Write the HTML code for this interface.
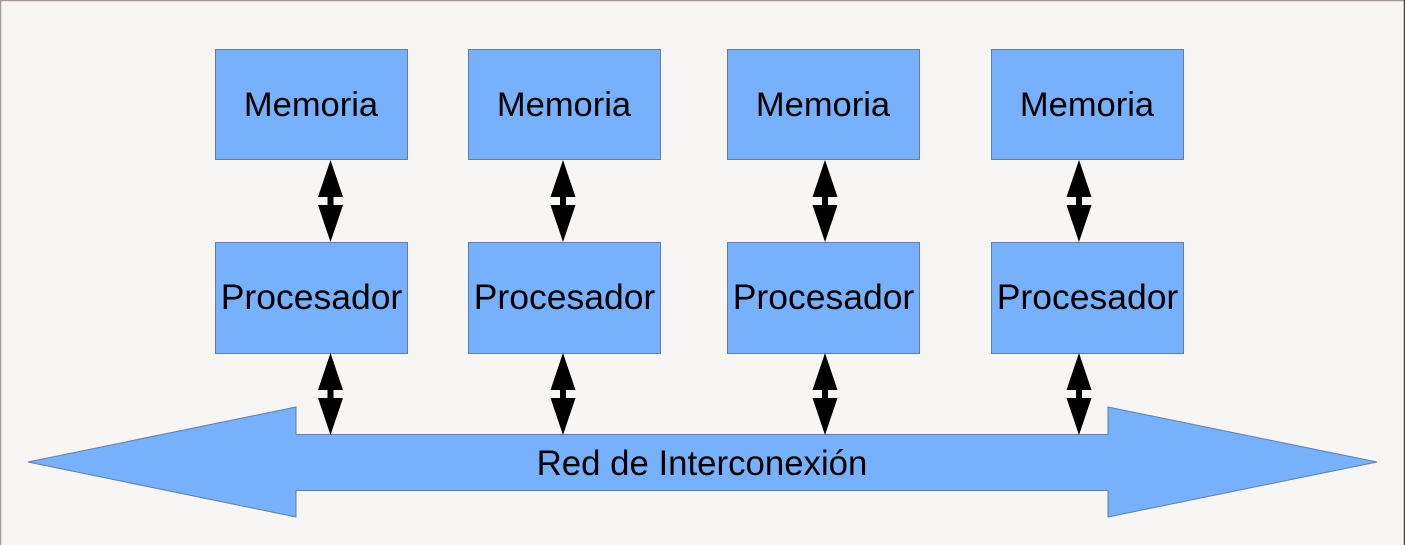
<!DOCTYPE html>
<html><head><meta charset="utf-8"><style>
html,body{margin:0;padding:0;background:#f7f6f4;}
svg{display:block;}
</style></head><body>
<svg width="1405" height="545" viewBox="0 0 1405 545" xmlns="http://www.w3.org/2000/svg">
<rect x="0" y="0" width="1405" height="545" fill="#f7f6f4"/>
<line x1="0.5" y1="0" x2="0.5" y2="545" stroke="#a49a92" stroke-width="1.5"/>
<line x1="0" y1="0.5" x2="1405" y2="0.5" stroke="#a49a92" stroke-width="1.5"/>
<line x1="1404.5" y1="0" x2="1404.5" y2="545" stroke="#4a4038" stroke-width="1.5"/>
<g fill="#77b1fb" stroke="#5d7fae" stroke-width="1">
<rect x="215.5" y="49.5" width="192" height="110"/>
<rect x="468.5" y="49.5" width="192" height="110"/>
<rect x="727.5" y="49.5" width="192" height="110"/>
<rect x="991.5" y="49.5" width="192" height="110"/>
<rect x="215.5" y="242.5" width="192" height="111"/>
<rect x="468.5" y="242.5" width="192" height="111"/>
<rect x="727.5" y="242.5" width="192" height="111"/>
<rect x="991.5" y="242.5" width="192" height="111"/>
<polygon points="28,462 296,407 296,434.5 1108,434.5 1108,407 1377,462 1108,517 1108,490.5 296,490.5 296,517"/>
</g>
<g font-family="Liberation Sans, sans-serif" font-size="34.5" fill="#000" text-anchor="middle">
<text x="311" y="116">Memoria</text>
<text x="564" y="116">Memoria</text>
<text x="823" y="116">Memoria</text>
<text x="1087" y="116">Memoria</text>
<text x="311.5" y="309" font-size="35.5">Procesador</text>
<text x="564.5" y="309" font-size="35.5">Procesador</text>
<text x="823.5" y="309" font-size="35.5">Procesador</text>
<text x="1087.5" y="309" font-size="35.5">Procesador</text>
<text x="702" y="475" font-size="34.8">Red de Interconexión</text>
</g>
<defs>
<g id="da">
<polygon points="0,0 12.5,37 3,37 3,45 12.5,45 0,82 -12.5,45 -3,45 -3,37 -12.5,37"/>
</g>
</defs>
<g fill="#000">
<use href="#da" x="330.5" y="160"/>
<use href="#da" x="563" y="160"/>
<use href="#da" x="825" y="160"/>
<use href="#da" x="1079" y="160"/>
<use href="#da" x="330.5" y="353"/>
<use href="#da" x="563" y="353"/>
<use href="#da" x="825" y="353"/>
<use href="#da" x="1079" y="353"/>
</g>
</svg>
</body></html>
